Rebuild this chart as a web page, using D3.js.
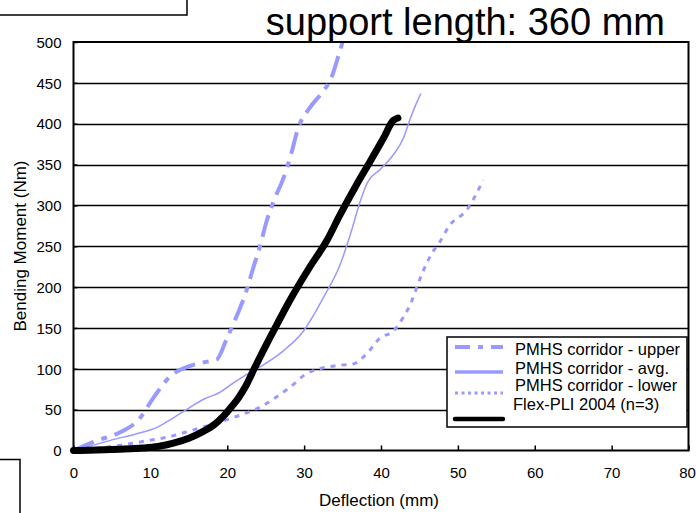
<!DOCTYPE html>
<html><head><meta charset="utf-8">
<script src="https://cdn.jsdelivr.net/npm/d3@7"></script>
<style>body{margin:0;background:#fff;}svg{display:block;font-family:"Liberation Sans",Arial,sans-serif;}</style>
</head><body>
<svg id="c" width="696" height="513"></svg>
<script>
const xTicks = [0,10,20,30,40,50,60,70,80];
const yTicks = [0,50,100,150,200,250,300,350,400,450,500];
const upper = [[0,0],[3,12],[6,22],[8.5,38],[10.5,66],[12.5,90],[15,103],[17,108],[18.6,111],[19.9,136],[21.2,164],[22.3,190],[23.4,224],[24.2,248],[25.1,280],[26.2,309],[27.3,333],[28.4,366],[29.2,394],[30.7,419],[32.5,440],[33.5,455],[34.3,478],[35,500]];
const avg = [[0,0],[2,5],[5,13],[8,20],[11,29],[13,40],[15,52],[17,63],[19,71],[21,84],[22.5,93],[24.2,102],[27.3,122],[29.9,146],[32.5,187],[34.7,228],[36,264],[37.3,305],[38.3,329],[39.9,344],[41.6,362],[42.9,382],[43.8,406],[44.7,427],[45.2,437]];
const lower = [[0,0],[5,5],[9,11],[12.5,17],[15.5,25],[18,32],[20.7,40],[23,48],[24.5,54],[26,63],[28.1,77],[30.3,94],[32,100],[34.2,104],[36.4,106],[38.1,118],[39.9,138],[41.6,146],[42.9,163],[44,183],[44.7,201],[45.5,220],[46.8,244],[47.7,256],[48.8,274],[51.2,295],[53.3,331]];
const flex = [[0,0],[3,0.5],[6,1.5],[9,3],[11,5],[13,9],[15,15],[17,24],[18.5,33],[19.5,42],[20.5,53],[21.5,65],[22.3,77],[23.5,100],[25.1,130],[26.5,155],[28.1,183],[30.7,224],[32.9,256],[34.7,289],[36.8,325],[38.6,354],[40.3,382],[41.6,404],[42.2,407]];
const seriesNames = ["PMHS corridor - upper","PMHS corridor - avg.","PMHS corridor - lower","Flex-PLI 2004 (n=3)"];

const svg = d3.select("#c");
const L=73.5, R=688.5, T=42, B=450.5;
const x = d3.scaleLinear().domain([0,80]).range([L,R]);
const y = d3.scaleLinear().domain([0,500]).range([B,T]);
const blue = "#9999ff";
const FONT = "Liberation Sans, Arial, sans-serif";

// fragment boxes
svg.append("rect").attr("x",-2).attr("y",-2).attr("width",189).attr("height",17).attr("fill","none").attr("stroke","#000").attr("stroke-width",1.5);
svg.append("rect").attr("x",-2).attr("y",459.5).attr("width",22).attr("height",60).attr("fill","none").attr("stroke","#000").attr("stroke-width",1.5);

// gridlines
svg.append("g").selectAll("line").data(yTicks.filter(d=>d>0&&d<500)).join("line")
  .attr("x1",L).attr("x2",R).attr("y1",d=>Math.round(y(d))+0.5).attr("y2",d=>Math.round(y(d))+0.5)
  .attr("stroke","#000").attr("stroke-width",1.5);

// axes
const xa = svg.append("g").attr("transform",`translate(0,${B})`)
  .call(d3.axisBottom(x).tickValues(xTicks).tickSize(-5).tickPadding(17).tickFormat(d3.format("d")));
const ya = svg.append("g").attr("transform",`translate(${L},0)`)
  .call(d3.axisLeft(y).tickValues(yTicks).tickSize(-4).tickPadding(12).tickFormat(d3.format("d")));
[xa,ya].forEach(a=>{a.select(".domain").remove();a.selectAll("line").attr("stroke","#000").attr("stroke-width",1.5);a.selectAll("text").attr("font-size",15).attr("fill","#000").attr("font-family",FONT);});
ya.selectAll("text").attr("dy","0.35em");
xa.selectAll(".tick text").filter(d=>d===80).attr("dx",-1.5);

const line = d3.line().x(d=>x(d[0])).y(d=>y(d[1])).curve(d3.curveMonotoneX);
const g = svg.append("g");
g.append("path").datum(avg).attr("d",line).attr("fill","none").attr("stroke",blue).attr("stroke-width",1.5);
g.append("path").datum(lower).attr("d",line).attr("fill","none").attr("stroke",blue).attr("stroke-width",3).attr("stroke-dasharray","5,6");
g.append("path").datum(upper).attr("d",line).attr("fill","none").attr("stroke",blue).attr("stroke-width",4).attr("stroke-dasharray","22,8,6,8");
g.append("path").datum(flex).attr("d",line).attr("fill","none").attr("stroke","#000").attr("stroke-width",7).attr("stroke-linejoin","round").attr("stroke-linecap","round");

// plot border
svg.append("rect").attr("x",L).attr("y",T).attr("width",R-L).attr("height",B-T).attr("fill","none").attr("stroke","#000").attr("stroke-width",2);

// legend
const lg = svg.append("g");
lg.append("rect").attr("x",447).attr("y",337).attr("width",240).attr("height",90).attr("fill","#fff").attr("stroke","#000").attr("stroke-width",1.5);
const textBase = [355,374,391,410];
const lineY = [347,372,393,419];
const styles = [
  {stroke:blue,w:4,dash:"15,8,5,8"},
  {stroke:blue,w:3.5,dash:null},
  {stroke:blue,w:3,dash:"3,3.5"},
  {stroke:"#000",w:4.5,dash:null}];
seriesNames.forEach((n,i)=>{
  lg.append("line").attr("x1",455).attr("x2",503).attr("y1",lineY[i]).attr("y2",lineY[i])
    .attr("stroke",styles[i].stroke).attr("stroke-width",styles[i].w).attr("stroke-dasharray",styles[i].dash).attr("stroke-linecap",i===3?"round":"butt");
  lg.append("text").attr("x",i===3?513:515).attr("y",textBase[i]).attr("font-size",16.5).attr("font-family",FONT).text(n);
});

// titles
svg.append("text").attr("x",665).attr("y",35).attr("text-anchor","end").attr("font-size",38).attr("font-family",FONT).text("support length: 360 mm");
svg.append("text").attr("x",379).attr("y",506).attr("text-anchor","middle").attr("font-size",17).attr("font-family",FONT).text("Deflection (mm)");
svg.append("text").attr("transform","translate(26,246) rotate(-90)").attr("text-anchor","middle").attr("font-size",17).attr("font-family",FONT).text("Bending Moment (Nm)");
</script>
</body></html>
